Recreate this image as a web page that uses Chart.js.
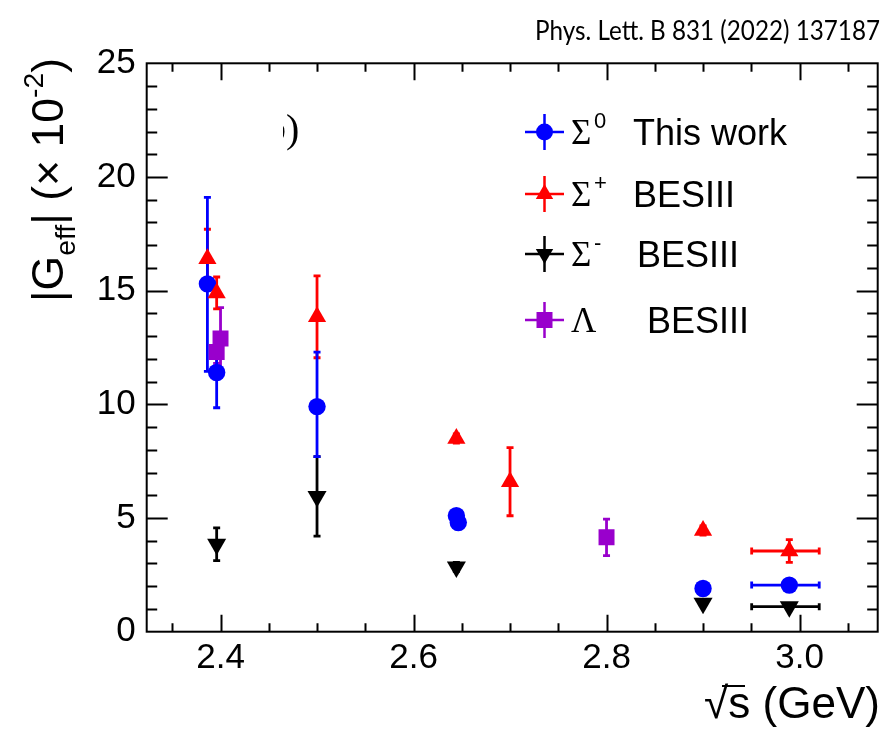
<!DOCTYPE html>
<html>
<head>
<meta charset="utf-8">
<script src="https://cdn.jsdelivr.net/npm/chart.js@4.4.1/dist/chart.umd.min.js"></script>
<style>
  html, body { margin: 0; padding: 0; background: #fff; }
  #wrap { width: 889px; height: 729px; }
</style>
</head>
<body>
<div id="wrap"><canvas id="chart" width="889" height="729"></canvas></div>
<script>
// values, |G_eff| in units of 1e-2
const sigma0X    = [2.3864, 2.3960, 2.5000, 2.6444, 2.6464, 2.9000, 2.9894];
const sigma0Y    = [15.3, 11.4, 9.9, 5.1, 4.8, 1.9, 2.05];
const sigma0ErrUp   = [3.8, 1.5, 2.4, 0.25, 0.25, 0.15, 0.15];
const sigma0ErrDown = [3.85, 1.55, 2.2, 0.25, 0.25, 0.15, 0.15];
const sigma0XErrLo  = [0, 0, 0, 0, 0, 0, 0.039];
const sigma0XErrHi  = [0, 0, 0, 0, 0, 0, 0.031];

const sigmaPlusX   = [2.3864, 2.3960, 2.5000, 2.6444, 2.7000, 2.9000, 2.9894];
const sigmaPlusY   = [16.4, 14.9, 13.85, 8.5, 6.6, 4.45, 3.55];
const sigmaPlusErr = [1.3, 0.7, 1.8, 0.2, 1.5, 0.2, 0.5];
const sigmaPlusXErrLo = [0, 0, 0, 0, 0, 0, 0.039];
const sigmaPlusXErrHi = [0, 0, 0, 0, 0, 0, 0.031];

const sigmaMinusX   = [2.3960, 2.5000, 2.6444, 2.9000, 2.9894];
const sigmaMinusY   = [3.85, 5.95, 2.85, 1.25, 1.1];
const sigmaMinusErr = [0.72, 1.75, 0.2, 0.1, 0.1];
const sigmaMinusXErrLo = [0, 0, 0, 0, 0.039];
const sigmaMinusXErrHi = [0, 0, 0, 0, 0.031];

const lambdaX   = [2.3960, 2.4000, 2.8000];
const lambdaY   = [12.3, 12.9, 4.15];
const lambdaErr = [0.5, 1.35, 0.8];

const xTickValues = [2.4, 2.6, 2.8, 3.0];
const xTickLabels = ['2.4', '2.6', '2.8', '3.0'];
const yTickValues = [0, 5, 10, 15, 20, 25];

const SANS = '"Liberation Sans", Arial, sans-serif';
const SERIF = '"Liberation Serif", "Times New Roman", serif';

function points(xs, ys, up, down, xlo, xhi) {
    return xs.map((x, i) => ({
        x: x, y: ys[i],
        yHi: up[i], yLo: down ? down[i] : up[i],
        xLo: xlo ? xlo[i] : 0, xHi: xhi ? xhi[i] : 0
    }));
}

// error bars under the markers
const errorBars = {
    id: 'errorBars',
    beforeDatasetsDraw(chart) {
        const { ctx, scales: { x, y } } = chart;
        ctx.save();
        ctx.lineCap = 'butt';
        chart.data.datasets.forEach(ds => {
            ctx.strokeStyle = ds.borderColor;
            ctx.lineWidth = 2.8;
            ds.data.forEach(p => {
                const px = x.getPixelForValue(p.x);
                const top = y.getPixelForValue(p.y + p.yHi);
                const bot = y.getPixelForValue(p.y - p.yLo);
                const py = y.getPixelForValue(p.y);
                ctx.beginPath();
                ctx.moveTo(px, top); ctx.lineTo(px, bot);
                ctx.moveTo(px - 3.5, top); ctx.lineTo(px + 3.5, top);
                ctx.moveTo(px - 3.5, bot); ctx.lineTo(px + 3.5, bot);
                if (p.xLo || p.xHi) {
                    const l = x.getPixelForValue(p.x - p.xLo);
                    const r = x.getPixelForValue(p.x + p.xHi);
                    ctx.moveTo(l, py); ctx.lineTo(r, py);
                    ctx.moveTo(l, py - 3.5); ctx.lineTo(l, py + 3.5);
                    ctx.moveTo(r, py - 3.5); ctx.lineTo(r, py + 3.5);
                }
                ctx.stroke();
            });
        });
        ctx.restore();
    }
};

// ROOT style frame with ticks on all four sides
const frame = {
    id: 'frame',
    afterDatasetsDraw(chart) {
        const { ctx, chartArea: a, scales: { x, y } } = chart;
        ctx.save();
        ctx.strokeStyle = '#000';
        ctx.lineWidth = 2;
        ctx.strokeRect(a.left, a.top, a.right - a.left, a.bottom - a.top);
        ctx.beginPath();
        for (let v = 2.35; v < 3.081; v += 0.05) {
            const px = Math.round(x.getPixelForValue(v)) + 0.5;
            const major = xTickValues.some(t => Math.abs(t - v) < 1e-6);
            const len = major ? 17 : 8.5;
            ctx.moveTo(px, a.bottom); ctx.lineTo(px, a.bottom - len);
            ctx.moveTo(px, a.top); ctx.lineTo(px, a.top + len);
        }
        for (let v = 1; v < 25; v++) {
            const py = Math.round(y.getPixelForValue(v)) + 0.5;
            const len = v % 5 === 0 ? 21 : 10.5;
            ctx.moveTo(a.left, py); ctx.lineTo(a.left + len, py);
            ctx.moveTo(a.right, py); ctx.lineTo(a.right - len, py);
        }
        ctx.stroke();
        ctx.restore();
    }
};

// mixed-font text runs, optionally squeezed to a given width
function richWidth(ctx, segs) {
    let w = 0;
    segs.forEach(s => { ctx.font = s.font; w += ctx.measureText(s.text).width + (s.gap || 0); });
    return w;
}
function drawRich(ctx, segs, x, y, width) {
    const w = richWidth(ctx, segs);
    const k = width ? width / w : 1;
    ctx.save();
    ctx.translate(x, y);
    ctx.scale(k, 1);
    let cx = 0;
    segs.forEach(s => {
        ctx.font = s.font;
        ctx.fillText(s.text, cx, s.dy || 0);
        cx += ctx.measureText(s.text).width + (s.gap || 0);
    });
    ctx.restore();
}

function marker(ctx, style, x, y, color) {
    ctx.fillStyle = color;
    ctx.beginPath();
    if (style === 'circle') {
        ctx.arc(x, y, 8.5, 0, Math.PI * 2);
    } else if (style === 'up') {
        ctx.moveTo(x, y - 10); ctx.lineTo(x + 8.7, y + 5); ctx.lineTo(x - 8.7, y + 5);
    } else if (style === 'down') {
        ctx.moveTo(x, y + 10); ctx.lineTo(x + 8.7, y - 5); ctx.lineTo(x - 8.7, y - 5);
    } else {
        ctx.rect(x - 8, y - 8, 16, 16);
    }
    ctx.fill();
}

const annotations = {
    id: 'annotations',
    afterDraw(chart) {
        const ctx = chart.ctx;
        ctx.save();
        ctx.fillStyle = '#000';
        ctx.textBaseline = 'alphabetic';

        // reference line at top right, sized so a light squeeze fills the width
        const ref = 'Phys. Lett. B 831 (2022) 137187';
        ctx.font = '100px Lato, "Open Sans", sans-serif';
        const refSize = Math.min(30, 345 / (0.9 * ctx.measureText(ref).width) * 100);
        drawRich(ctx, [{ text: ref, font: refSize.toFixed(1) + 'px Lato, "Open Sans", sans-serif' }], 535, 40, 345);

        // y title, rotated
        ctx.save();
        ctx.translate(63, 302);
        ctx.rotate(-Math.PI / 2);
        drawRich(ctx, [
            { text: '|G', font: '44px ' + SANS },
            { text: 'eff', font: '28px ' + SANS, dy: 12 },
            { text: '| (\u00d7 10', font: '44px ' + SANS },
            { text: '-2', font: '28px ' + SANS, dy: -20 },
            { text: ')', font: '44px ' + SANS }
        ], 0, 0, 244);
        ctx.restore();

        // x title
        const xs = [
            { text: '\u221a', font: '44px ' + SANS },
            { text: 's (GeV)', font: '44px ' + SANS }
        ];
        drawRich(ctx, xs, 704, 718, 176);
        ctx.lineWidth = 2;
        ctx.beginPath();
        ctx.moveTo(722, 686); ctx.lineTo(745, 686);
        ctx.stroke();

        // partly hidden panel label
        ctx.save();
        ctx.beginPath();
        ctx.rect(283, 100, 40, 60);
        ctx.clip();
        ctx.font = '40px ' + SERIF;
        ctx.fillText('b)', 266, 142);
        ctx.restore();

        // legend
        const rows = [
            { y: 132, color: '#0000ff', style: 'circle', sym: '\u03a3', sup: '0', label: 'This work', lx: 633 },
            { y: 194, color: '#ff0000', style: 'up', sym: '\u03a3', sup: '+', label: 'BESIII', lx: 633 },
            { y: 254, color: '#000000', style: 'down', sym: '\u03a3', sup: '-', label: 'BESIII', lx: 637 },
            { y: 320, color: '#9900cc', style: 'rect', sym: '\u039b', sup: '', label: 'BESIII', lx: 647 }
        ];
        rows.forEach(r => {
            ctx.strokeStyle = r.color;
            ctx.lineWidth = 2.5;
            ctx.beginPath();
            ctx.moveTo(525, r.y); ctx.lineTo(564, r.y);
            ctx.moveTo(544.5, r.y - 18); ctx.lineTo(544.5, r.y + 18);
            ctx.stroke();
            marker(ctx, r.style, 544.5, r.y, r.color);
            ctx.fillStyle = '#000';
            ctx.font = '35px ' + SERIF;
            ctx.fillText(r.sym, 571, r.y + 12);
            if (r.sup) {
                ctx.font = '22px ' + SANS;
                ctx.fillText(r.sup, 594, r.y - 4);
            }
            ctx.font = '36px ' + SANS;
            ctx.fillText(r.label, r.lx, r.y + 13);
        });
        ctx.restore();
    }
};

function dataset(label, pts, color, style, rotation, radius) {
    return {
        label: label,
        data: pts,
        borderColor: color,
        backgroundColor: color,
        pointStyle: style,
        rotation: rotation,
        pointRadius: radius,
        pointHoverRadius: radius,
        pointBorderWidth: 0,
        showLine: false
    };
}

const ctx = document.getElementById('chart').getContext('2d');
new Chart(ctx, {
    type: 'scatter',
    data: {
        datasets: [
            dataset('Lambda BESIII', points(lambdaX, lambdaY, lambdaErr), '#9900cc', 'rect', 0, 11.3),
            dataset('Sigma- BESIII', points(sigmaMinusX, sigmaMinusY, sigmaMinusErr, null, sigmaMinusXErrLo, sigmaMinusXErrHi), '#000000', 'triangle', 180, 11),
            dataset('Sigma+ BESIII', points(sigmaPlusX, sigmaPlusY, sigmaPlusErr, null, sigmaPlusXErrLo, sigmaPlusXErrHi), '#ff0000', 'triangle', 0, 10.5),
            dataset('Sigma0 This work', points(sigma0X, sigma0Y, sigma0ErrUp, sigma0ErrDown, sigma0XErrLo, sigma0XErrHi), '#0000ff', 'circle', 0, 8.7)
        ]
    },
    options: {
        responsive: false,
        animation: false,
        layout: { padding: { top: 63.3, right: 7.3, left: 0, bottom: 0 } },
        plugins: { legend: { display: false }, tooltip: { enabled: false } },
        scales: {
            x: {
                type: 'linear',
                min: 2.3235,
                max: 3.081,
                afterBuildTicks: s => { s.ticks = xTickValues.map(v => ({ value: v })); },
                afterFit: s => { s.height = 97.3; },
                grid: { display: false, drawTicks: false },
                border: { display: false },
                ticks: {
                    callback: (v, i) => xTickLabels[i],
                    color: '#000',
                    padding: 6,
                    maxRotation: 0,
                    font: { family: SANS, size: 35 }
                }
            },
            y: {
                type: 'linear',
                min: 0,
                max: 25,
                afterBuildTicks: s => { s.ticks = yTickValues.map(v => ({ value: v })); },
                afterFit: s => { s.width = 146.7; },
                grid: { display: false, drawTicks: false },
                border: { display: false },
                ticks: {
                    color: '#000',
                    padding: 11,
                    font: { family: SANS, size: 35 }
                }
            }
        }
    },
    plugins: [errorBars, frame, annotations]
});
</script>
</body>
</html>
